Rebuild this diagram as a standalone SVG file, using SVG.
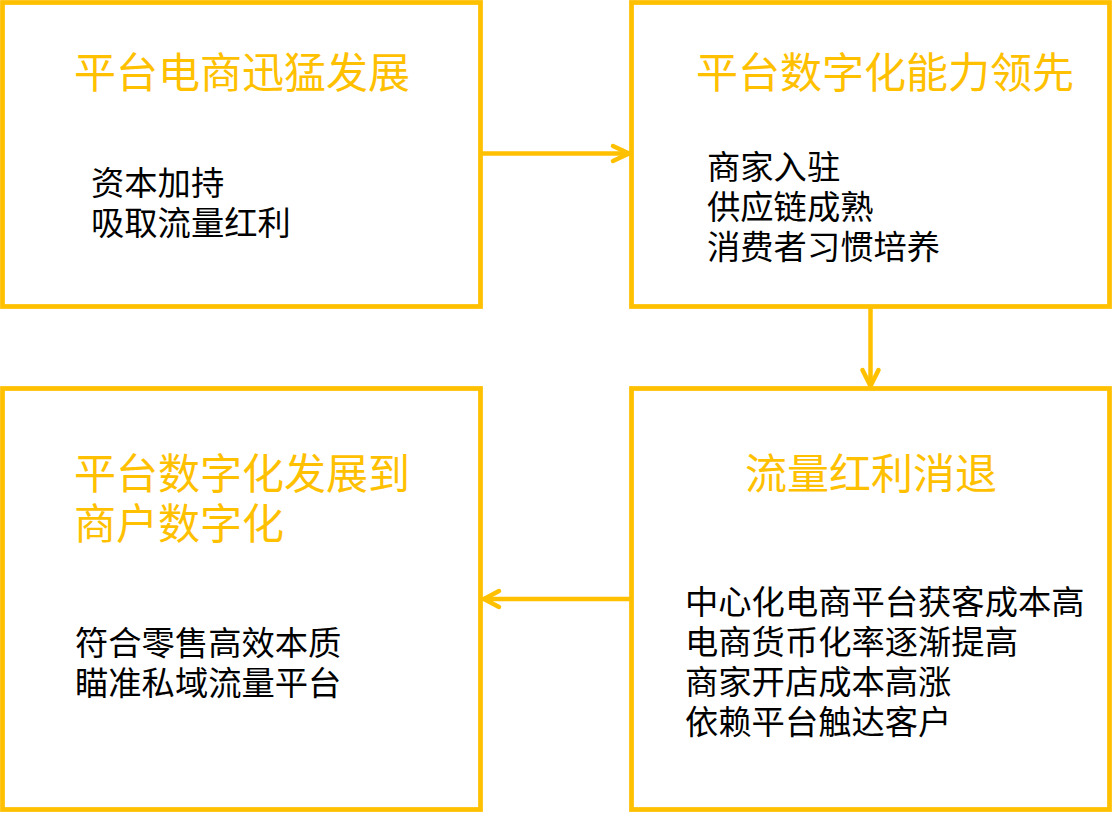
<svg xmlns="http://www.w3.org/2000/svg" width="1112" height="813" viewBox="0 0 1112 813">
<style>
.box{fill:#FFFFFF;stroke:#FFC000;stroke-width:4.75}
.title{font-family:"Microsoft YaHei","Noto Sans CJK SC",sans-serif;font-size:42px;fill:#FFC000}
.body{font-family:"Microsoft YaHei","Noto Sans CJK SC",sans-serif;font-size:33.3px;fill:#000000}
.conn{fill:none;stroke:#FFC000;stroke-width:4.5;stroke-linecap:round;stroke-linejoin:round}
</style>
<rect width="1112" height="813" fill="#FFFFFF"/>
<g id="node-1">
<rect class="box" x="2.5" y="2.5" width="478" height="304"/>
<text class="title" x="74" y="88">平台电商迅猛发展</text>
<text class="body" x="91" y="195">资本加持</text>
<text class="body" x="91" y="235">吸取流量红利</text>
</g>
<g id="node-2">
<rect class="box" x="631.5" y="2.5" width="478" height="304"/>
<text class="title" x="696" y="88">平台数字化能力领先</text>
<text class="body" x="707" y="179">商家入驻</text>
<text class="body" x="707" y="219">供应链成熟</text>
<text class="body" x="707" y="259">消费者习惯培养</text>
</g>
<g id="node-3">
<rect class="box" x="2.5" y="388.5" width="478" height="421"/>
<text class="title" x="74" y="489">平台数字化发展到</text>
<text class="title" x="74" y="539">商户数字化</text>
<text class="body" x="75" y="655">符合零售高效本质</text>
<text class="body" x="75" y="695">瞄准私域流量平台</text>
</g>
<g id="node-4">
<rect class="box" x="631.5" y="388.5" width="478" height="421"/>
<text class="title" x="745" y="489">流量红利消退</text>
<text class="body" x="685" y="614">中心化电商平台获客成本高</text>
<text class="body" x="685" y="654">电商货币化率逐渐提高</text>
<text class="body" x="685" y="694">商家开店成本高涨</text>
<text class="body" x="685" y="734">依赖平台触达客户</text>
</g>
<g id="connectors">
<path class="conn" d="M482.5 153.5 H629"/>
<path class="conn" d="M613 146 L629 153.5 L613 161"/>
<path class="conn" d="M870.5 308.5 V386"/>
<path class="conn" d="M862.5 370 L870.5 386 L878.5 370"/>
<path class="conn" d="M629.5 599 H484"/>
<path class="conn" d="M499 591 L484 599 L499 607"/>
</g>
</svg>
